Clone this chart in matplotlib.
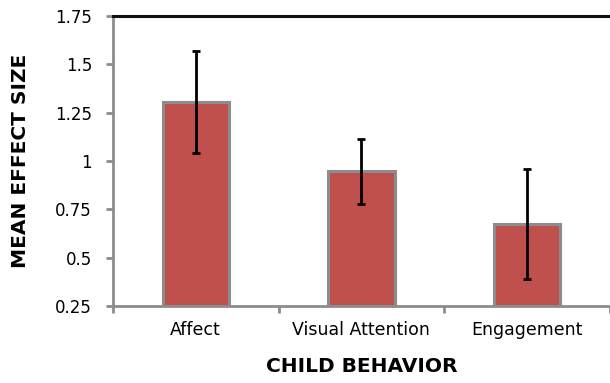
import numpy as np
import matplotlib.pyplot as plt

categories = ['Affect', 'Visual Attention', 'Engagement']
means = [1.305, 0.948, 0.675]
errors = [0.263, 0.168, 0.283]
y_ticks = [0.25, 0.5, 0.75, 1, 1.25, 1.5, 1.75]
y_tick_labels = ['0.25', '0.5', '0.75', '1', '1.25', '1.5', '1.75']


def main():
    plt.rcParams['font.family'] = ['DejaVu Sans']
    fig = plt.figure(figsize=(6.1, 3.83), dpi=100)
    ax = fig.add_axes([0.185, 0.201, 0.815, 0.757])

    x = np.arange(len(categories))
    grey = '#8c8c8c'
    ax.bar(x, np.array(means) - 0.25, bottom=0.25, width=0.4,
           color='#C0504D', edgecolor=grey, linewidth=2.2, zorder=2)
    ax.errorbar(x, means, yerr=errors, fmt='none', ecolor='black',
                elinewidth=2, capsize=3, capthick=2, zorder=3)

    ax.set_xlim(-0.5, len(categories) - 0.5)
    ax.set_ylim(0.25, 1.75)
    ax.set_yticks(y_ticks)
    ax.set_yticklabels(y_tick_labels, fontsize=12)

    # category labels centered, tick marks at the boundaries
    ax.set_xticks(np.arange(len(categories) + 1) - 0.5)
    ax.set_xticklabels([])
    ax.set_xticks(x, minor=True)
    ax.set_xticklabels(categories, minor=True, fontsize=12.5)
    ax.tick_params(axis='x', which='minor', length=0, pad=11)
    ax.tick_params(axis='x', which='major', length=5, width=2, color=grey)
    ax.tick_params(axis='y', length=5, width=2, color=grey, pad=10)

    for side in ['left', 'bottom']:
        ax.spines[side].set_color(grey)
        ax.spines[side].set_linewidth(2)
    ax.spines['right'].set_visible(False)
    ax.spines['top'].set_color('#111111')
    ax.spines['top'].set_linewidth(2.2)

    ax.set_xlabel('CHILD BEHAVIOR', fontsize=14.5, fontweight='bold', labelpad=13)
    ax.set_ylabel('MEAN EFFECT SIZE', fontsize=14.5, fontweight='bold', labelpad=18)

    fig.savefig('out.png', dpi=100)


if __name__ == "__main__":
    main()
